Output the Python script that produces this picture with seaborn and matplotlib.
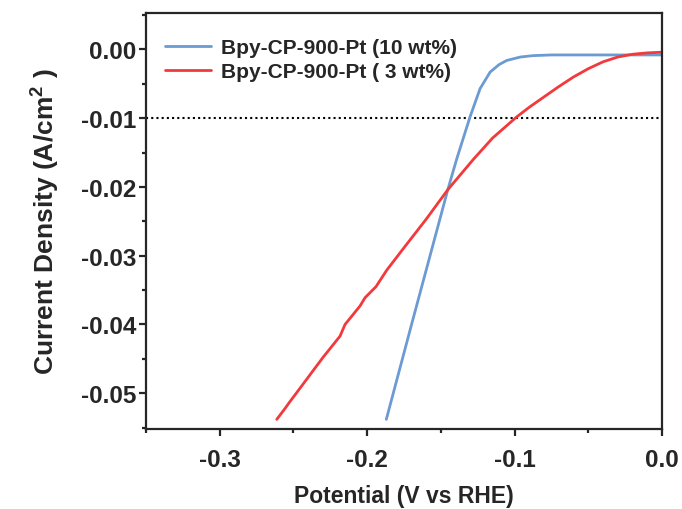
import pandas as pd
import matplotlib
matplotlib.use("Agg")
import matplotlib.pyplot as plt
import seaborn as sns
from matplotlib.ticker import MultipleLocator

# --- data ---
label_10 = "Bpy-CP-900-Pt (10 wt%)"
label_3 = "Bpy-CP-900-Pt ( 3 wt%)"

pot_10 = [-0.187, -0.170, -0.1453, -0.1392, -0.1302, -0.1234, -0.1166, -0.1105,
          -0.1053, -0.0960, -0.0875, -0.0750, -0.0603, -0.0420, -0.0200, 0.0]
cur_10 = [-0.0538, -0.0401, -0.0204, -0.0159, -0.0098, -0.0057, -0.0033, -0.0022,
          -0.0016, -0.0011, -0.0009, -0.0008, -0.0008, -0.0008, -0.0008, -0.0008]

pot_3 = [-0.2613, -0.2560, -0.2523, -0.2460, -0.2387, -0.2300, -0.2184, -0.2160,
         -0.2150, -0.2048, -0.2014, -0.1940, -0.1867, -0.1756, -0.1600,
         -0.1453, -0.1280, -0.1150, -0.0985, -0.0900, -0.0800, -0.0700, -0.0600,
         -0.0500, -0.0400, -0.0300, -0.0200, -0.0100, 0.0]
cur_3 = [-0.0538, -0.0523, -0.0512, -0.0494, -0.0473, -0.0448, -0.0417, -0.0405,
         -0.0400, -0.0373, -0.0361, -0.0345, -0.0321, -0.0290, -0.0247,
         -0.0204, -0.0160, -0.0129, -0.0098, -0.0084, -0.0069, -0.0054, -0.0040,
         -0.0028, -0.0018, -0.0011, -0.0007, -0.0005, -0.0004]

df = pd.concat([
    pd.DataFrame({"pot": pot_10, "cur": cur_10, "sample": label_10}),
    pd.DataFrame({"pot": pot_3, "cur": cur_3, "sample": label_3}),
])

sns.set_style("ticks")
plt.rcParams["font.family"] = ["Liberation Sans", "DejaVu Sans"]
plt.rcParams["font.weight"] = "bold"
plt.rcParams["mathtext.fontset"] = "custom"
plt.rcParams["mathtext.bf"] = "Liberation Sans:bold"
plt.rcParams["mathtext.rm"] = "Liberation Sans:bold"

fig = plt.figure(figsize=(6.82, 5.10), dpi=100)
ax = fig.add_axes([146 / 682, 1 - 430 / 510, 516 / 682, 416 / 510])

sns.lineplot(data=df, x="pot", y="cur", hue="sample", sort=False,
             palette={label_10: "#6b9bd2", label_3: "#f2393c"},
             linewidth=2.0, ax=ax)
ax.axhline(-0.01, color="black", linestyle=(0, (1, 1.5)), linewidth=1.5, zorder=1)

ax.set_xlim(-0.35, 0.0)
ax.set_ylim(-0.0552, 0.0053)
ax.xaxis.set_minor_locator(MultipleLocator(0.05))
ax.yaxis.set_minor_locator(MultipleLocator(0.005))
ax.set_xticks([-0.3, -0.2, -0.1, 0.0])
ax.set_xticklabels(["-0.3", "-0.2", "-0.1", "0.0"])
ax.set_yticks([0.0, -0.01, -0.02, -0.03, -0.04, -0.05])
ax.set_yticklabels(["0.00", "-0.01", "-0.02", "-0.03", "-0.04", "-0.05"])

for s in ax.spines.values():
    s.set_visible(True)
    s.set_linewidth(1.6)
ax.tick_params(which="major", direction="out", length=5, width=1.6,
               labelsize=17.5, pad=2)
ax.tick_params(axis="x", which="major", pad=9)
ax.tick_params(which="minor", direction="out", length=3, width=1.6)
for lab in ax.get_xticklabels() + ax.get_yticklabels():
    lab.set_fontweight("bold")

ax.set_xlabel("Potential (V vs RHE)", fontsize=16.5, fontweight="bold", labelpad=9)
ax.set_ylabel("Current Density (A/cm$^{\\mathbf{2}}$ )", fontsize=19,
              fontweight="bold", labelpad=14)

leg = ax.legend(loc="upper left", frameon=False, fontsize=15,
                handlelength=2.2, handletextpad=0.5,
                bbox_to_anchor=(0.0, 0.985), borderaxespad=0.5,
                labelspacing=0.25)
for t in leg.get_texts():
    t.set_fontweight("bold")
for h in leg.get_lines():
    h.set_linewidth(2.0)

fig.savefig("out.png", dpi=100)
